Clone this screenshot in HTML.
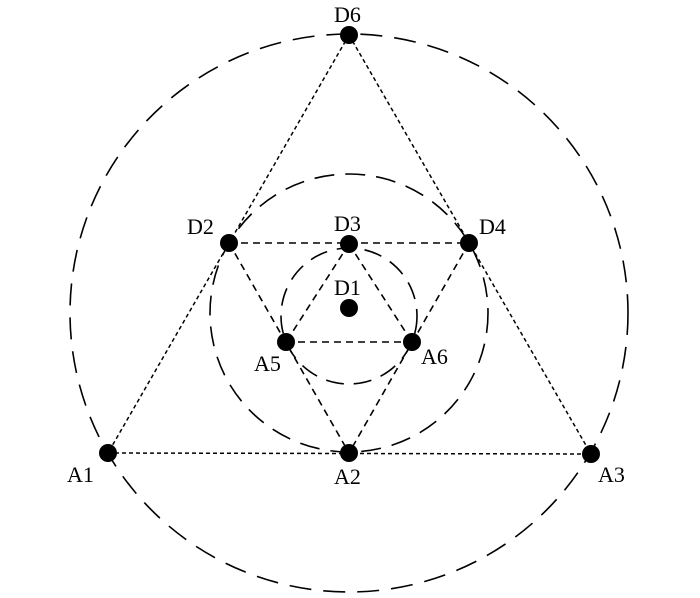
<!DOCTYPE html>
<html><head><style>body{margin:0;background:#fff}svg{display:block}text{font-family:"Liberation Serif","Times New Roman",Times,serif}</style></head><body>
<svg width="700" height="598" viewBox="0 0 700 598" xmlns="http://www.w3.org/2000/svg">
<g fill="none" stroke="#000" stroke-width="1.6">
<circle cx="349" cy="313" r="279" stroke-dasharray="22,12"/>
<circle cx="349" cy="313" r="139" stroke-dasharray="20,11"/>
<circle cx="349" cy="316" r="68" stroke-dasharray="18,10"/>
</g>
<g fill="none" stroke="#000" stroke-width="1.5" stroke-dasharray="4,3">
<line x1="349" y1="35" x2="108" y2="453"/>
<line x1="349" y1="35" x2="591" y2="454"/>
<line x1="108" y1="453" x2="591" y2="454"/>
</g>
<g fill="none" stroke="#000" stroke-width="1.6" stroke-dasharray="7,5">
<line x1="229" y1="243" x2="469" y2="243"/>
<line x1="229" y1="243" x2="349" y2="453"/>
<line x1="469" y1="243" x2="349" y2="453"/>
<line x1="349" y1="244" x2="286" y2="342"/>
<line x1="349" y1="244" x2="412" y2="342"/>
<line x1="286" y1="342" x2="412" y2="342"/>
</g>
<g fill="#000">
<circle cx="349" cy="35" r="9"/><circle cx="229" cy="243" r="9"/><circle cx="349" cy="244" r="9"/>
<circle cx="469" cy="243" r="9"/><circle cx="349" cy="308" r="9"/><circle cx="286" cy="342" r="9"/>
<circle cx="412" cy="342" r="9"/><circle cx="108" cy="453" r="9"/><circle cx="349" cy="453" r="9"/>
<circle cx="591" cy="454" r="9"/>
</g>
<g font-size="22" fill="#000">
<text x="334" y="22">D6</text>
<text x="187" y="234">D2</text>
<text x="334" y="231">D3</text>
<text x="479" y="234">D4</text>
<text x="334" y="295">D1</text>
<text x="254" y="371">A5</text>
<text x="421" y="364">A6</text>
<text x="67" y="482">A1</text>
<text x="334" y="484">A2</text>
<text x="598" y="482">A3</text>
</g>
</svg>
</body></html>
